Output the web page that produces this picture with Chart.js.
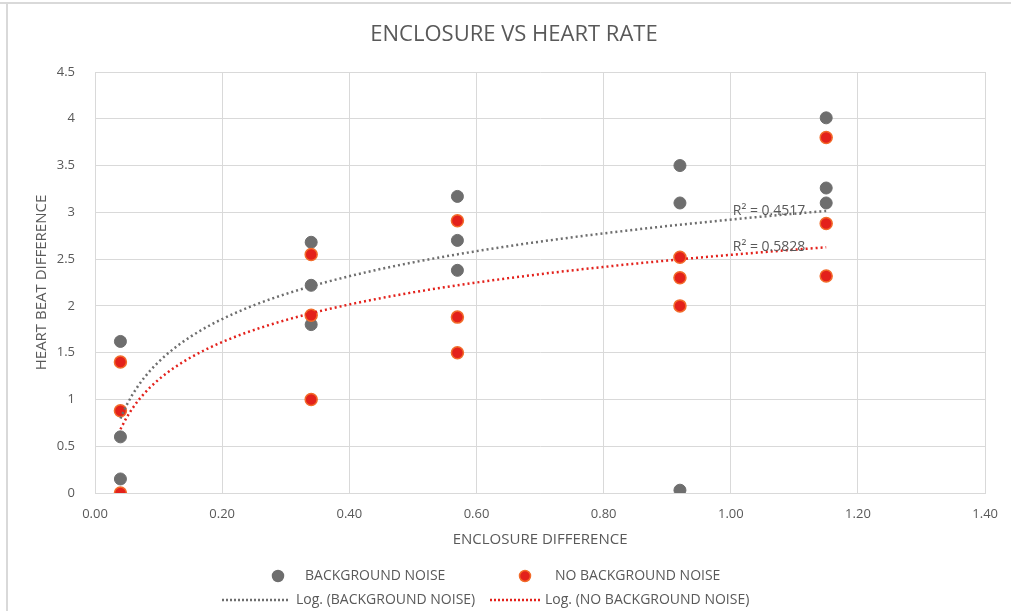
<!DOCTYPE html>
<html>
<head>
<meta charset="utf-8">
<script src="https://cdn.jsdelivr.net/npm/chart.js@4/dist/chart.umd.min.js"></script>
<style>
html,body{margin:0;padding:0;background:#fff;}
#wrap{position:relative;width:1011px;height:611px;}
</style>
</head>
<body>
<div id="wrap"><canvas id="c" width="1011" height="611"></canvas></div>
<script>
// ---- data ----
const chartTitle = 'ENCLOSURE VS HEART RATE';
const xAxisTitle = 'ENCLOSURE DIFFERENCE';
const yAxisTitle = 'HEART BEAT DIFFERENCE';
const bgLabel = 'BACKGROUND NOISE';
const noBgLabel = 'NO BACKGROUND NOISE';
const bgX = [0.04, 0.04, 0.04, 0.34, 0.34, 0.34, 0.57, 0.57, 0.57, 0.92, 0.92, 0.92, 1.15, 1.15, 1.15];
const bgY = [1.62, 0.60, 0.15, 2.68, 2.22, 1.80, 3.17, 2.70, 2.38, 3.50, 3.10, 0.03, 4.01, 3.26, 3.10];
const noBgX = [0.04, 0.04, 0.04, 0.34, 0.34, 0.34, 0.57, 0.57, 0.57, 0.92, 0.92, 0.92, 1.15, 1.15, 1.15];
const noBgY = [1.40, 0.88, 0.00, 2.55, 1.90, 1.00, 2.91, 1.88, 1.50, 2.52, 2.30, 2.00, 3.80, 2.88, 2.32];
const bgR2Text = 'R² = 0.4517';
const noBgR2Text = 'R² = 0.5828';
const xTicks = [0, 0.2, 0.4, 0.6, 0.8, 1.0, 1.2, 1.4];
const yTicks = [0, 0.5, 1, 1.5, 2, 2.5, 3, 3.5, 4, 4.5];

// ---- logarithmic trendline (least squares y = a ln x + b), as Excel does ----
function logFit(xs, ys) {
  const lx = xs.map(Math.log);
  const n = xs.length;
  const mx = lx.reduce((s, v) => s + v, 0) / n;
  const my = ys.reduce((s, v) => s + v, 0) / n;
  let sxy = 0, sxx = 0;
  for (let i = 0; i < n; i++) { sxy += (lx[i] - mx) * (ys[i] - my); sxx += (lx[i] - mx) * (lx[i] - mx); }
  const a = sxy / sxx, b = my - a * mx;
  return x => a * Math.log(x) + b;
}
const bgFit = logFit(bgX, bgY);
const noBgFit = logFit(noBgX, noBgY);
function curve(fit, xs) {
  const lo = Math.min(...xs), hi = Math.max(...xs);
  const pts = [];
  const N = 120;
  for (let i = 0; i <= N; i++) { const x = lo + (hi - lo) * i / N; pts.push({x, y: fit(x)}); }
  return pts;
}
const toPts = (xs, ys) => xs.map((x, i) => ({x, y: ys[i]}));

const GRAY = '#6e6e6e';
const RED = '#e3211b';
const ORANGE = '#f26b2a';
const TEXT = '#595959';
const FONT = "'Open Sans', 'Liberation Sans', sans-serif";

const bgPlugin = {
  id: 'bgPlugin',
  beforeDraw(chart) {
    const ctx = chart.ctx;
    ctx.save();
    ctx.fillStyle = '#fff';
    ctx.fillRect(0, 0, chart.width, chart.height);
    ctx.strokeStyle = '#d9d9d9';
    ctx.lineWidth = 2;
    ctx.beginPath();
    ctx.moveTo(0, 3); ctx.lineTo(chart.width, 3);
    ctx.moveTo(7, 3); ctx.lineTo(7, chart.height);
    ctx.stroke();
    ctx.restore();
  },
  afterDatasetsDraw(chart) {
    const ctx = chart.ctx, xs = chart.scales.x, ys = chart.scales.y;
    ctx.save();
    ctx.font = '14px ' + FONT;
    ctx.fillStyle = TEXT;
    ctx.textBaseline = 'middle';
    ctx.textAlign = 'left';
    const xMax = Math.max(...bgX);
    ctx.fillText(bgR2Text, xs.getPixelForValue(1.0) + 2, ys.getPixelForValue(bgFit(xMax)));
    ctx.fillText(noBgR2Text, xs.getPixelForValue(1.0) + 2, ys.getPixelForValue(noBgFit(xMax)));
    ctx.restore();
  },
  afterDraw(chart) {
    const ctx = chart.ctx;
    const ds = chart.data.datasets;
    ctx.save();
    // title
    ctx.font = '22px ' + FONT;
    ctx.fillStyle = TEXT;
    ctx.textAlign = 'center';
    ctx.textBaseline = 'middle';
    ctx.fillText(chartTitle, 514, 35);
    // legend
    ctx.font = '14px ' + FONT;
    ctx.textAlign = 'left';
    const r1 = 576, r2 = 600;
    const marker = (x, y, fill, stroke) => {
      ctx.beginPath(); ctx.arc(x, y, 5.5, 0, Math.PI * 2);
      ctx.fillStyle = fill; ctx.fill();
      ctx.lineWidth = 1.5; ctx.strokeStyle = stroke; ctx.stroke();
    };
    marker(278, r1, GRAY, GRAY);
    ctx.fillStyle = TEXT; ctx.fillText(ds[3].label, 305, r1);
    marker(525, r1, RED, ORANGE);
    ctx.fillStyle = TEXT; ctx.fillText(ds[2].label, 555, r1);
    const dotted = (x1, x2, y, color) => {
      ctx.beginPath(); ctx.setLineDash([2, 2]); ctx.lineWidth = 2.5; ctx.strokeStyle = color;
      ctx.moveTo(x1, y); ctx.lineTo(x2, y); ctx.stroke(); ctx.setLineDash([]);
    };
    dotted(222, 290, r2, GRAY);
    ctx.fillStyle = TEXT; ctx.fillText(ds[1].label, 296, r2);
    dotted(490, 541, r2, RED);
    ctx.fillStyle = TEXT; ctx.fillText(ds[0].label, 545, r2);
    ctx.restore();
  }
};

new Chart(document.getElementById('c'), {
  type: 'scatter',
  data: {
    datasets: [
      { label: 'Log. (' + noBgLabel + ')', type: 'line', data: curve(noBgFit, noBgX), showLine: true, pointRadius: 0,
        borderColor: RED, borderWidth: 2.5, borderDash: [2, 3], fill: false, tension: 0 },
      { label: 'Log. (' + bgLabel + ')', type: 'line', data: curve(bgFit, bgX), showLine: true, pointRadius: 0,
        borderColor: GRAY, borderWidth: 2.5, borderDash: [2, 3], fill: false, tension: 0 },
      { label: noBgLabel, data: toPts(noBgX, noBgY), backgroundColor: RED, borderColor: ORANGE, borderWidth: 1.5, pointRadius: 6 },
      { label: bgLabel, data: toPts(bgX, bgY), backgroundColor: GRAY, borderColor: GRAY, borderWidth: 1, pointRadius: 6 }
    ]
  },
  options: {
    responsive: false,
    animation: false,
    events: [],
    layout: { padding: { top: 72, right: 23, bottom: 61, left: 0 } },
    plugins: {
      legend: { display: false },
      tooltip: { enabled: false },
      title: { display: false }
    },
    scales: {
      x: {
        type: 'linear', min: 0, max: 1.4,
        afterBuildTicks: s => { s.ticks = xTicks.map(v => ({value: v})); },
        afterFit: s => { s.height = 57; },
        grid: { color: '#d9d9d9', lineWidth: 1, drawTicks: false },
        border: { color: '#d9d9d9' },
        ticks: { color: TEXT, font: { family: FONT, size: 13 }, padding: 13, callback: v => Number(v).toFixed(2) },
        title: { display: true, text: xAxisTitle, color: TEXT, font: { family: FONT, size: 15 }, padding: { top: 0, bottom: 1 } }
      },
      y: {
        type: 'linear', min: 0, max: 4.5,
        afterBuildTicks: s => { s.ticks = yTicks.map(v => ({value: v})); },
        afterFit: s => { s.width = 95; },
        grid: { color: '#d9d9d9', lineWidth: 1, drawTicks: false },
        border: { color: '#d9d9d9' },
        ticks: { color: TEXT, font: { family: FONT, size: 13 }, padding: 20, callback: v => String(Math.round(v * 10) / 10) },
        title: { display: true, text: yAxisTitle, color: TEXT, font: { family: FONT, size: 15 }, padding: { top: 33, bottom: 0 } }
      }
    }
  },
  plugins: [bgPlugin]
});
</script>
</body>
</html>
